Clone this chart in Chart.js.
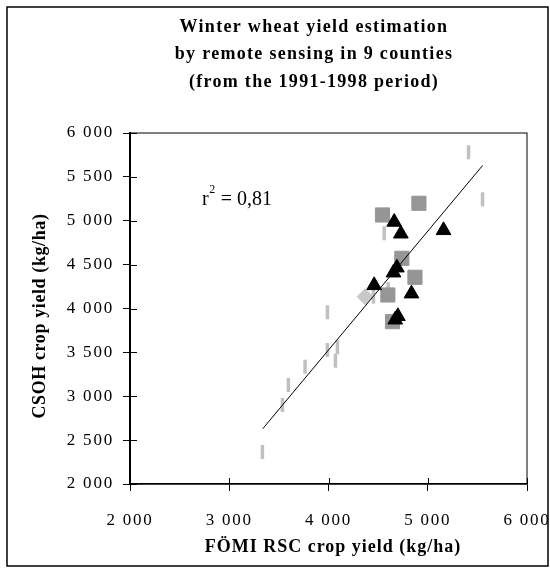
<!DOCTYPE html>
<html lang="en">
<head>
    <meta charset="UTF-8">
    <title>Winter wheat yield estimation</title>
    <script src="https://cdn.jsdelivr.net/npm/chart.js"></script>
    <style>
        body { margin: 0; background: #fff; }
        canvas { display: block; }
    </style>
</head>
<body>
    <canvas id="yieldChart" width="550" height="569"></canvas>

    <script>
        // values (kg/ha)
        const xTicks = [2000, 3000, 4000, 5000, 6000];
        const xTickLabels = ["2 000", "3 000", "4 000", "5 000", "6 000"];
        const yTicks = [2000, 2500, 3000, 3500, 4000, 4500, 5000, 5500, 6000];
        const yTickLabels = ["2 000", "2 500", "3 000", "3 500", "4 000", "4 500", "5 000", "5 500", "6 000"];

        const dashX = [5411, 5552, 4561, 3989, 4453, 4601, 3989, 4090, 4070, 3764, 3596, 3536, 3334];
        const dashY = [5780, 5244, 4857, 3957, 4135, 4222, 3527, 3558, 3405, 3337, 3128, 2900, 2365];
        const squareX = [4544, 4911, 4739, 4871, 4598, 4645];
        const squareY = [5066, 5199, 4572, 4356, 4154, 3850];
        const triangleX = [4662, 4729, 5159, 4689, 4655, 4460, 4836, 4699, 4672];
        const triangleY = [4986, 4852, 4891, 4465, 4408, 4264, 4169, 3911, 3872];
        const diamondX = [4369];
        const diamondY = [4135];
        const trendX = [3338, 5553];
        const trendY = [2630, 5630];

        const titleLines = ["Winter wheat yield estimation", "by remote sensing in 9 counties", "(from the 1991-1998 period)"];
        const xTitle = "FÖMI RSC crop yield (kg/ha)";
        const yTitle = "CSOH crop yield (kg/ha)";

        function pts(xs, ys) {
            return xs.map((x, i) => ({ x: x, y: ys[i] }));
        }

        function tickLabel(values, labels) {
            return v => {
                let i = values.indexOf(v);
                return i >= 0 ? labels[i] : "";
            };
        }

        const serif = "'Liberation Serif', 'Times New Roman', serif";

        // frame, plot box, inner tick halves and the texts
        const decorations = {
            id: "decorations",
            beforeDraw(chart) {
                chart.ctx.letterSpacing = "1.8px";
            },
            afterDraw(chart) {
                let ctx = chart.ctx;
                let a = chart.chartArea;
                ctx.save();
                ctx.letterSpacing = "0px";
                ctx.strokeStyle = "#000";

                ctx.lineWidth = 1;
                ctx.strokeRect(a.left, a.top, a.right - a.left, a.bottom - a.top);

                ctx.beginPath();
                chart.scales.x.ticks.forEach(t => {
                    let px = Math.round(chart.scales.x.getPixelForValue(t.value)) + 0.5;
                    ctx.moveTo(px, a.bottom);
                    ctx.lineTo(px, a.bottom - 6);
                });
                chart.scales.y.ticks.forEach(t => {
                    let py = Math.round(chart.scales.y.getPixelForValue(t.value)) + 0.5;
                    ctx.moveTo(a.left, py);
                    ctx.lineTo(a.left + 7, py);
                });
                ctx.stroke();

                ctx.lineWidth = 1.5;
                ctx.strokeRect(7, 7, 541, 559);

                ctx.fillStyle = "#000";
                ctx.textBaseline = "alphabetic";
                ctx.textAlign = "center";
                ctx.font = "bold 18px " + serif;
                ctx.letterSpacing = "1.3px";
                titleLines.forEach((line, i) => {
                    ctx.fillText(line, 314, 31.5 + i * 27.5);
                });

                ctx.letterSpacing = "1px";
                ctx.fillText(xTitle, 333, 552);

                ctx.save();
                ctx.translate(45, 316);
                ctx.rotate(-Math.PI / 2);
                ctx.letterSpacing = "0.6px";
                ctx.fillText(yTitle, 0, 0);
                ctx.restore();

                // r² label
                ctx.letterSpacing = "0px";
                ctx.textAlign = "left";
                ctx.font = "20px " + serif;
                ctx.fillText("r", 202, 205);
                let rw = ctx.measureText("r").width;
                ctx.font = "12px " + serif;
                ctx.fillText("2", 202 + rw + 0.5, 193);
                let sw = ctx.measureText("2").width;
                ctx.font = "20px " + serif;
                ctx.fillText(" = 0,81", 202 + rw + sw + 1, 205);

                ctx.restore();
            }
        };

        let ctx = document.getElementById("yieldChart").getContext("2d");
        let yieldChart = new Chart(ctx, {
            type: "scatter",
            data: {
                datasets: [
                    {
                        label: "trend",
                        data: pts(trendX, trendY),
                        showLine: true,
                        pointRadius: 0,
                        borderColor: "#000",
                        borderWidth: 1
                    },
                    {
                        label: "triangles",
                        data: pts(triangleX, triangleY),
                        pointStyle: "triangle",
                        pointRadius: 8.5,
                        backgroundColor: "#000",
                        borderColor: "#000",
                        borderWidth: 1
                    },
                    {
                        label: "squares",
                        data: pts(squareX, squareY),
                        pointStyle: "rect",
                        pointRadius: 10,
                        backgroundColor: "#969696",
                        borderColor: "#969696",
                        borderWidth: 1
                    },
                    {
                        label: "diamond",
                        data: pts(diamondX, diamondY),
                        pointStyle: "rectRot",
                        pointRadius: 8,
                        backgroundColor: "#c8c8c8",
                        borderColor: "#c8c8c8",
                        borderWidth: 1
                    },
                    {
                        label: "dashes",
                        data: pts(dashX, dashY),
                        pointStyle: "line",
                        pointRotation: 90,
                        pointRadius: 7,
                        borderColor: "#c0c0c0",
                        borderWidth: 3.5
                    }
                ]
            },
            options: {
                responsive: false,
                devicePixelRatio: 1,
                animation: false,
                events: [],
                layout: { padding: { left: 0, top: 133, right: 23, bottom: 0 } },
                plugins: {
                    legend: { display: false },
                    tooltip: { enabled: false },
                    title: { display: false }
                },
                scales: {
                    x: {
                        type: "linear",
                        min: 2000,
                        max: 6000,
                        afterFit: s => {
                            s.height = 85;
                            s.paddingLeft = 0;
                            s.paddingRight = 0;
                        },
                        afterBuildTicks: s => { s.ticks = xTicks.map(v => ({ value: v })); },
                        ticks: {
                            color: "#000",
                            padding: 19,
                            maxRotation: 0,
                            font: { family: serif, size: 17 },
                            callback: tickLabel(xTicks, xTickLabels)
                        },
                        grid: { drawOnChartArea: false, color: "#000", tickLength: 7 },
                        border: { color: "#000", width: 1.5 }
                    },
                    y: {
                        type: "linear",
                        min: 2000,
                        max: 6000,
                        afterFit: s => {
                            s.width = 130;
                            s.paddingTop = 0;
                            s.paddingBottom = 0;
                        },
                        afterBuildTicks: s => { s.ticks = yTicks.map(v => ({ value: v })); },
                        ticks: {
                            color: "#000",
                            padding: 9,
                            font: { family: serif, size: 17 },
                            callback: tickLabel(yTicks, yTickLabels)
                        },
                        grid: { drawOnChartArea: false, color: "#000", tickLength: 7 },
                        border: { color: "#000", width: 2 }
                    }
                }
            },
            plugins: [decorations]
        });
    </script>
</body>
</html>
